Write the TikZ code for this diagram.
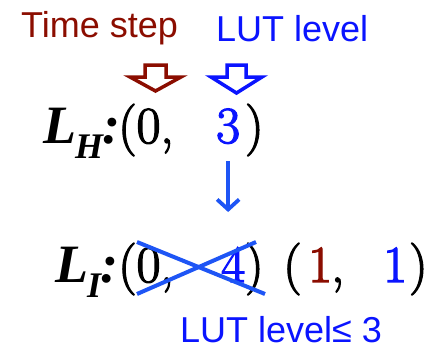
\documentclass[tikz,border=0pt]{standalone}
\usepackage{fontspec}
\usetikzlibrary{arrows.meta}
\newfontfamily\lblfont{Liberation Sans}
\newfontfamily\namefont{Liberation Serif}
\newfontfamily\tupfont[FakeBold=2.5]{Latin Modern Roman}
\definecolor{stepred}{HTML}{8B0D00}
\definecolor{lutblue}{HTML}{0A14FF}
\definecolor{markblue}{HTML}{1E55F5}
\newcommand{\lname}[1]{{\namefont\bfseries\itshape\fontsize{54}{54}\selectfont
  L\kern-1pt\raisebox{-15pt}{\fontsize{36}{36}\selectfont#1}\kern-1pt:}}
\tikzset{
  tag/.style={inner sep=0pt, anchor=base west,
              font=\lblfont\fontsize{36}{36}\selectfont, text=#1},
  tag/.default=lutblue,
  tup/.style={inner sep=0pt, anchor=base west,
              font=\tupfont\fontsize{52}{52}\selectfont, text=#1},
  tup/.default=black,
  hollow/.style={draw=#1, fill=white, line width=3.5pt, line join=miter},
  varrow/.style={-{Straight Barb[length=10pt, width=22pt]}, line width=3.8pt, markblue},
  strike/.style={line width=4pt, markblue},
}

\begin{document}
\begin{tikzpicture}[x=1pt, y=-1pt]
\useasboundingbox (0,0) rectangle (436,349);
% labels on top
\node[tag=stepred] (tstep) at (21,37) {Time step};
\node[tag] (lutlbl) at (216,41) {LUT level};
% hollow pointers
\draw[hollow=stepred] (145,65) -- (166,65) -- (166,77) -- (181,77) -- (155.5,91)
  -- (130,77) -- (145,77) -- cycle;
\draw[hollow=lutblue] (227,65) -- (246,65) -- (246,77) -- (262,77) -- (236.5,93)
  -- (211,77) -- (227,77) -- cycle;
% L_H
\node[tup] (hname) at (43,143) {\lname{H}};
\node[tup] (hopen) at (118,143) {(0,};
\node[tup=lutblue] (hval) at (216,143) {3};
\node[tup] (hclose) at (245,143) {)};
% L_I
\node[tup] (iname) at (55,282) {\lname{I}};
\node[tup] (iopen) at (118,282) {(0,};
\node[tup=lutblue] (ival) at (221,282) {4};
\node[tup] (iclose) at (245,282) {)};
\node[tup] (nopen) at (283,282) {(};
\node[tup=stepred] (nstep) at (308,282) {1};
\node[tup] (ncomma) at (331,282) {,};
\node[tup=lutblue] (nlvl) at (383,282) {1};
\node[tup] (nclose) at (409,282) {)};
\node[tag] (lutcap) at (180,342) {LUT level≤ 3};
% arrow and cross
\draw[varrow, shorten <=17pt, shorten >=35pt] (hval.south) -- (hval.south |- ival.north);
\draw[strike] (137,242) -- (265,294);
\draw[strike] (137,294) -- (256,242);
\end{tikzpicture}
\end{document}
